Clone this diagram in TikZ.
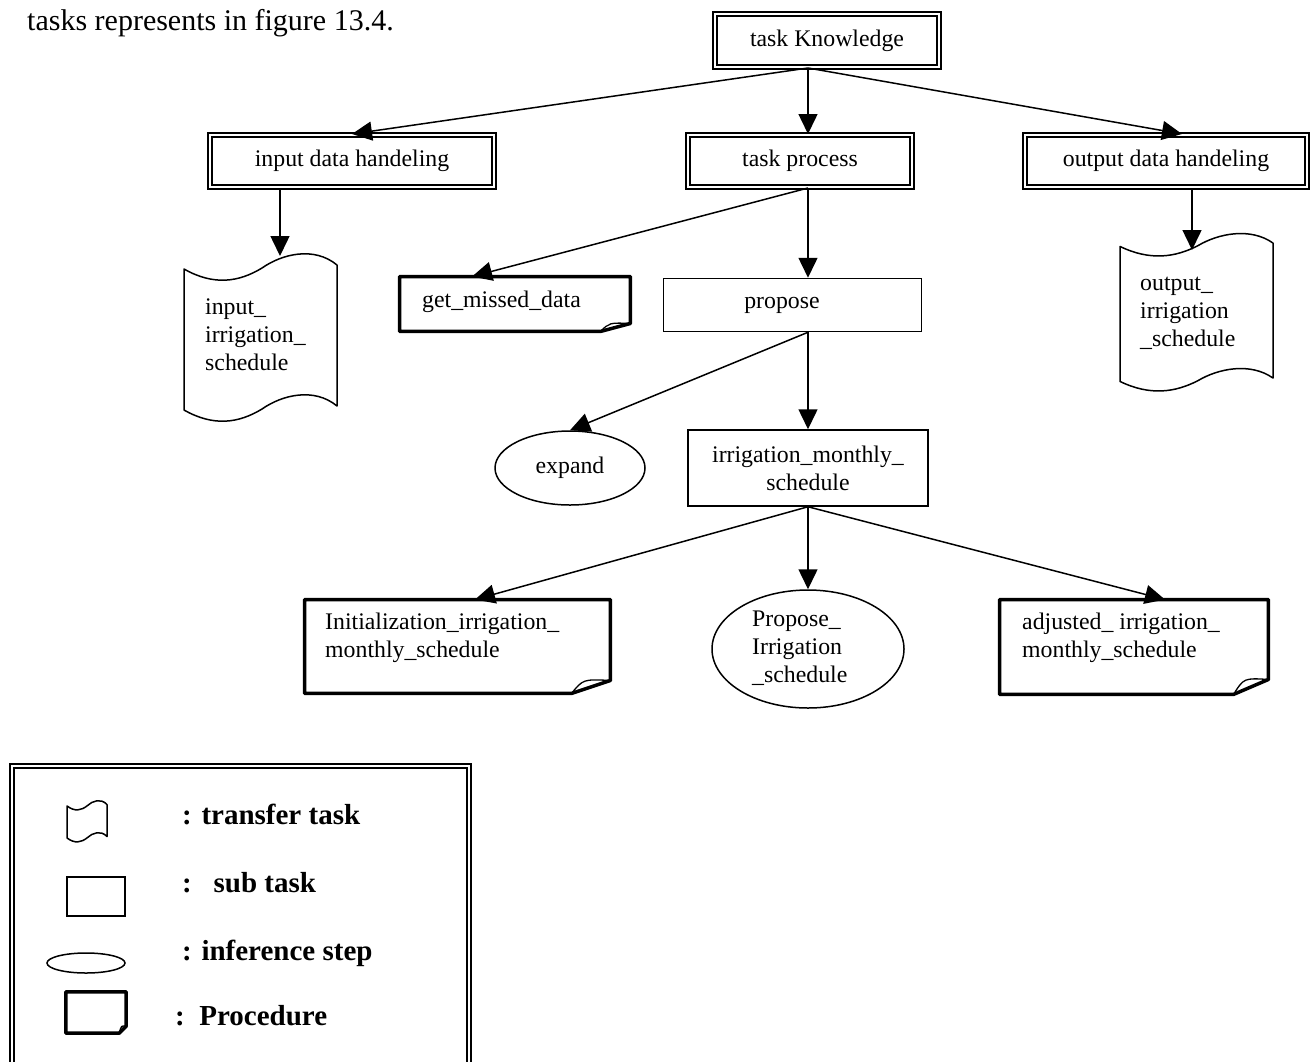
\documentclass[tikz,border=0pt]{standalone}
\usepackage{fontspec}
\setmainfont{Liberation Serif}
\usetikzlibrary{arrows.meta,calc,shapes.geometric}

\newcommand\dgfont{\fontsize{23.8}{28}\selectfont}
\newcommand\hdfont{\fontsize{30}{35}\selectfont}
\newcommand\lgfont{\fontsize{29}{34}\selectfont\bfseries}

% procedure outline: box with a folded bottom-right corner
% #1 node name, #2 fold width, #3 fold height
\newcommand\procframe[3]{%
  \draw[procline] (#1.north west) -- (#1.north east) -- ($(#1.south east)+(0,-#3)$)
    -- ($(#1.south east)+(-#2,0)$) -- (#1.south west) -- cycle;
  \draw[foldline] ($(#1.south east)+(-#2,0)$)
    .. controls ($(#1.south east)+(-0.7*#2,-1.1*#3)$) .. ($(#1.south east)+(0,-#3)$);
}

% transfer task outline: punched-tape shape with wavy top and bottom
% #1 left x, #2 crest y, #3 width, #4 side height, #5 wave scale
\newcommand\tapeframe[5]{%
  \draw[tapeline]
    ({#1},{#2+17*#5}) .. controls ({#1+0.196*#3},{#2+34*#5}) and ({#1+0.359*#3},{#2+30*#5}) .. ({#1+0.51*#3},{#2+16*#5})
    .. controls ({#1+0.64*#3},{#2+2*#5}) and ({#1+0.85*#3},{#2-6*#5}) .. ({#1+#3},{#2+13*#5})
    -- ({#1+#3},{#2+13*#5+#4})
    .. controls ({#1+0.85*#3},{#2-6*#5+#4}) and ({#1+0.64*#3},{#2+2*#5+#4}) .. ({#1+0.51*#3},{#2+16*#5+#4})
    .. controls ({#1+0.359*#3},{#2+30*#5+#4}) and ({#1+0.196*#3},{#2+34*#5+#4}) .. ({#1},{#2+17*#5+#4})
    -- cycle;
}

\begin{document}
\begin{tikzpicture}[x=1pt,y=-1pt,
  every node/.style={inner sep=0pt, font=\dgfont},
  dbl/.style={draw, rectangle, line width=2.2pt, double, double distance=1.8pt},
  subbox/.style={draw, rectangle, line width=1.5pt},
  proc/.style={rectangle},
  inf/.style={draw, ellipse, line width=1.5pt},
  arr/.style={line width=1.5pt, -{Triangle[length=20pt,width=19pt]}},
  procline/.style={line width=3.5pt, line join=round},
  foldline/.style={line width=1.3pt},
  tapeline/.style={line width=1.5pt, line join=round},
  lbl/.style={align=left, anchor=west},
  one/.style={text height=16pt, text depth=5pt},
  lgd/.style={anchor=west, font=\lgfont, text height=20pt, text depth=6pt}]

\useasboundingbox (0,0) rectangle (1316,1061);
\fill[white] (0,0) rectangle (1316,1061);

\node[anchor=base west, font=\hdfont] (hdr) at (27,30) {tasks represents in figure 13.4.};

% task hierarchy
\node[dbl, minimum width=223.8pt, minimum height=52.8pt] (taskK) at (827,40.5) {task Knowledge};
\node[dbl, minimum width=283.8pt, minimum height=51.8pt] (inp) at (352,161) {input data handeling};
\node[dbl, minimum width=223.8pt, minimum height=51.8pt] (tp) at (800,161) {task process};
\node[dbl, minimum width=281.8pt, minimum height=51.8pt] (out) at (1166,161) {output data handeling};

\node[proc, minimum width=230.5pt, minimum height=54.5pt] (gm) at (515,304) {};
\node[lbl, one] (gm-t) at (422,302) {get\_missed\_data};
\procframe{gm}{30}{8}

\node[subbox, minimum width=258pt, minimum height=53pt] (prop) at (792.5,305) {};
\node[one] (prop-t) at (782,303) {propose};

\node[inf, minimum width=150pt, minimum height=74pt] (exp) at (570,468) {expand};
\node[subbox, minimum width=240pt, minimum height=76pt, align=center] (irr) at (808,468) {irrigation\_monthly\_\\schedule};

\node[proc, minimum width=305.5pt, minimum height=93.5pt] (init) at (457.5,646.5) {};
\node[lbl] (init-t) at (325,638) {Initialization\_irrigation\_\\monthly\_schedule};
\procframe{init}{39}{13}

\node[inf, minimum width=192pt, minimum height=118pt] (pis) at (808,649) {};
\node[lbl] (pis-t) at (752,648) {Propose\_\\Irrigation\\\_schedule};

\node[proc, minimum width=268.5pt, minimum height=94.5pt] (adj) at (1134,647) {};
\node[lbl] (adj-t) at (1022,638) {adjusted\_ irrigation\_\\monthly\_schedule};
\procframe{adj}{35}{15}

% transfer tasks
\tapeframe{184}{252}{153}{141}{1}
\coordinate (inT) at (280,256);
\node[lbl] (inT-t) at (205,335) {input\_\\irrigation\_\\schedule};

\tapeframe{1120}{232}{153}{135}{0.85}
\coordinate (outT) at (1192,250);
\node[lbl] (outT-t) at (1140,313) {output\_\\irrigation\\\_schedule};

% connectors
\coordinate (k0) at ($(taskK.south)+(-19,0)$);
\draw[arr] (k0) -- (inp.north);
\draw[arr] (k0) -- (k0 |- tp.north);
\draw[arr] (k0) -- ($(out.north)+(16,0)$);
\draw[arr] (inp.south -| inT) -- (inT);
\draw[arr] (out.south -| outT) -- (outT);

\coordinate (t0) at (tp.south -| k0);
\draw[arr] (t0) -- ($(gm.north)+(-43,0)$);
\draw[arr] (t0) -- (t0 |- prop.north);

\coordinate (p0) at (prop.south -| k0);
\draw[arr] (p0) -- (exp.north);
\draw[arr] (p0) -- (p0 |- irr.north);

\coordinate (i0) at (irr.south);
\draw[arr] (i0) -- ($(init.north)+(17.5,0)$);
\draw[arr] (i0) -- (pis.north);
\draw[arr] (i0) -- ($(adj.north)+(31,0)$);

% legend
\node[dbl, minimum width=456.5pt, minimum height=330pt, anchor=north west] (legend) at (11,764.5) {};
\tapeframe{67}{800}{40}{32}{0.35}
\node[lgd] (l1) at (182,817) {: transfer task};
\node[subbox, minimum width=58pt, minimum height=39pt] (lsub) at (96,896.5) {};
\node[lgd] (l2) at (182,885) {:\ \ \ sub task};
\node[inf, minimum width=78pt, minimum height=20pt] (linf) at (86,963) {};
\node[lgd] (l3) at (182,953) {: inference step};
\node[proc, minimum width=60pt, minimum height=41pt] (lproc) at (96,1012.5) {};
\procframe{lproc}{7}{7}
\node[lgd] (l4) at (175,1018) {:\ \ Procedure};

\end{tikzpicture}
\end{document}
